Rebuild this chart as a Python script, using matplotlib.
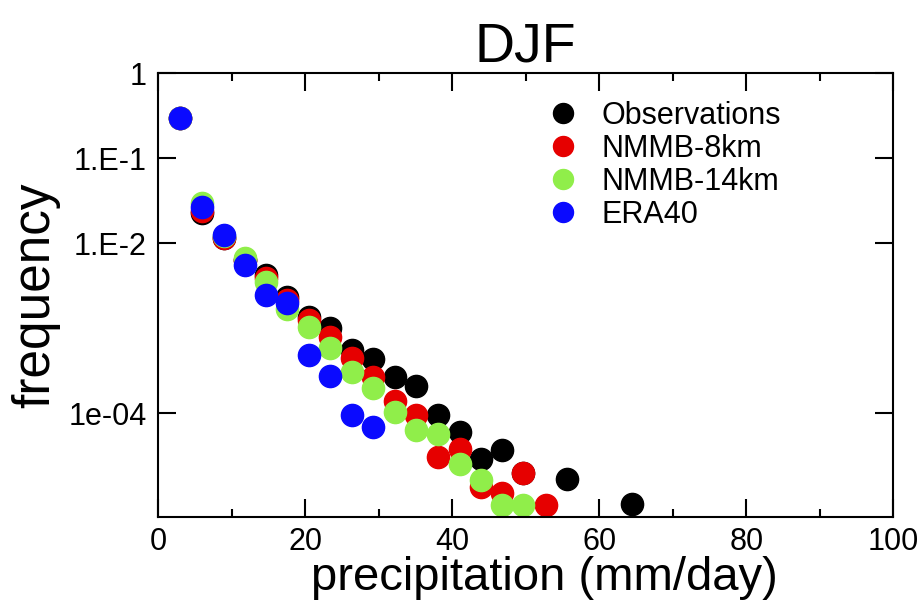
import matplotlib
matplotlib.use("Agg")
import matplotlib.pyplot as plt
import matplotlib.ticker as ticker

plt.rcParams['font.family'] = ['Liberation Sans', 'DejaVu Sans']

# precipitation bins (mm/day) and frequencies
obs_x = [3.0, 6.0, 8.9, 11.8, 14.7, 17.6, 20.5, 23.4, 26.4, 29.3, 32.2, 35.1, 38.1, 41.0, 43.9, 46.8, 49.7, 55.6, 64.4]
obs_y = [0.296, 0.0225, 0.0115, 0.0063, 0.0042, 0.00232, 0.00135, 0.0010, 0.00055, 0.00043, 0.000265, 0.000208,
         0.0000946, 0.0000597, 0.0000288, 0.0000367, 0.0000197, 0.0000167, 0.0000085]

nmmb8_x = [3.0, 6.0, 8.9, 11.8, 14.7, 17.6, 20.5, 23.4, 26.4, 29.3, 32.2, 35.1, 38.1, 41.0, 43.9, 46.8, 49.7, 52.7]
nmmb8_y = [0.296, 0.0238, 0.0115, 0.0063, 0.00388, 0.00213, 0.00124, 0.00078, 0.000444, 0.000265, 0.000138, 0.0000946,
           0.0000304, 0.0000377, 0.0000135, 0.0000115, 0.0000197, 0.0000083]

nmmb14_x = [3.0, 6.0, 8.9, 11.8, 14.7, 17.6, 20.5, 23.4, 26.4, 29.3, 32.2, 35.1, 38.1, 41.0, 43.9, 46.8, 49.7]
nmmb14_y = [0.296, 0.0296, 0.0121, 0.00666, 0.00348, 0.00167, 0.00103, 0.00058, 0.000303, 0.000197, 0.000103, 0.000063,
            0.0000566, 0.0000251, 0.0000163, 0.0000083, 0.0000083]

era_x = [3.0, 6.0, 8.9, 11.8, 14.7, 17.6, 20.5, 23.4, 26.4, 29.3]
era_y = [0.296, 0.0265, 0.0124, 0.0055, 0.00245, 0.00197, 0.00048, 0.000272, 0.0000946, 0.0000684]

series_x = [obs_x, nmmb8_x, nmmb14_x, era_x]
series_y = [obs_y, nmmb8_y, nmmb14_y, era_y]
labels = ['Observations', 'NMMB-8km', 'NMMB-14km', 'ERA40']
colors = ['#000000', '#e60000', '#90ee4a', '#0a0aff']

fig = plt.figure(figsize=(9.19, 6.05), dpi=100)
ax = fig.add_axes([0.172, 0.1455, 0.8, 0.7335])

for xs, ys, lab, col in zip(series_x, series_y, labels, colors):
	ax.plot(xs, ys, linestyle='none', marker='o', markersize=16, color=col,
			markeredgecolor=col, label=lab, clip_on=False)

ax.set_yscale('log')
ax.set_xlim(0, 100)
ax.set_ylim(6e-6, 1)

# odd tick labels as in the original
ax.yaxis.set_major_locator(ticker.FixedLocator([1, 1e-1, 1e-2, 1e-4]))
ax.yaxis.set_minor_locator(ticker.NullLocator())
ax.set_yticklabels(['1', '1.E-1', '1.E-2', '1e-04'])
ax.xaxis.set_major_locator(ticker.MultipleLocator(20))
ax.xaxis.set_minor_locator(ticker.MultipleLocator(10))

ax.tick_params(which='both', direction='in', top=True, right=True, width=1.5, labelsize=22, pad=8)
ax.tick_params(axis='x', pad=7)
ax.tick_params(which='major', length=13)
ax.tick_params(which='minor', length=6)
for sp in ax.spines.values():
	sp.set_linewidth(1.5)

ax.set_xlabel('precipitation (mm/day)', fontsize=34)
ax.xaxis.set_label_coords(0.525, -0.088, transform=ax.transAxes)
ax.set_ylabel('frequency', fontsize=37, labelpad=6)
ax.set_title('DJF', fontsize=40, pad=8)

ax.legend(loc='upper right', bbox_to_anchor=(0.864, 0.965), frameon=False, fontsize=22,
		  labelspacing=0.1, handletextpad=0.25, markerscale=0.9, borderaxespad=0)

plt.savefig('out.png', dpi=100)
